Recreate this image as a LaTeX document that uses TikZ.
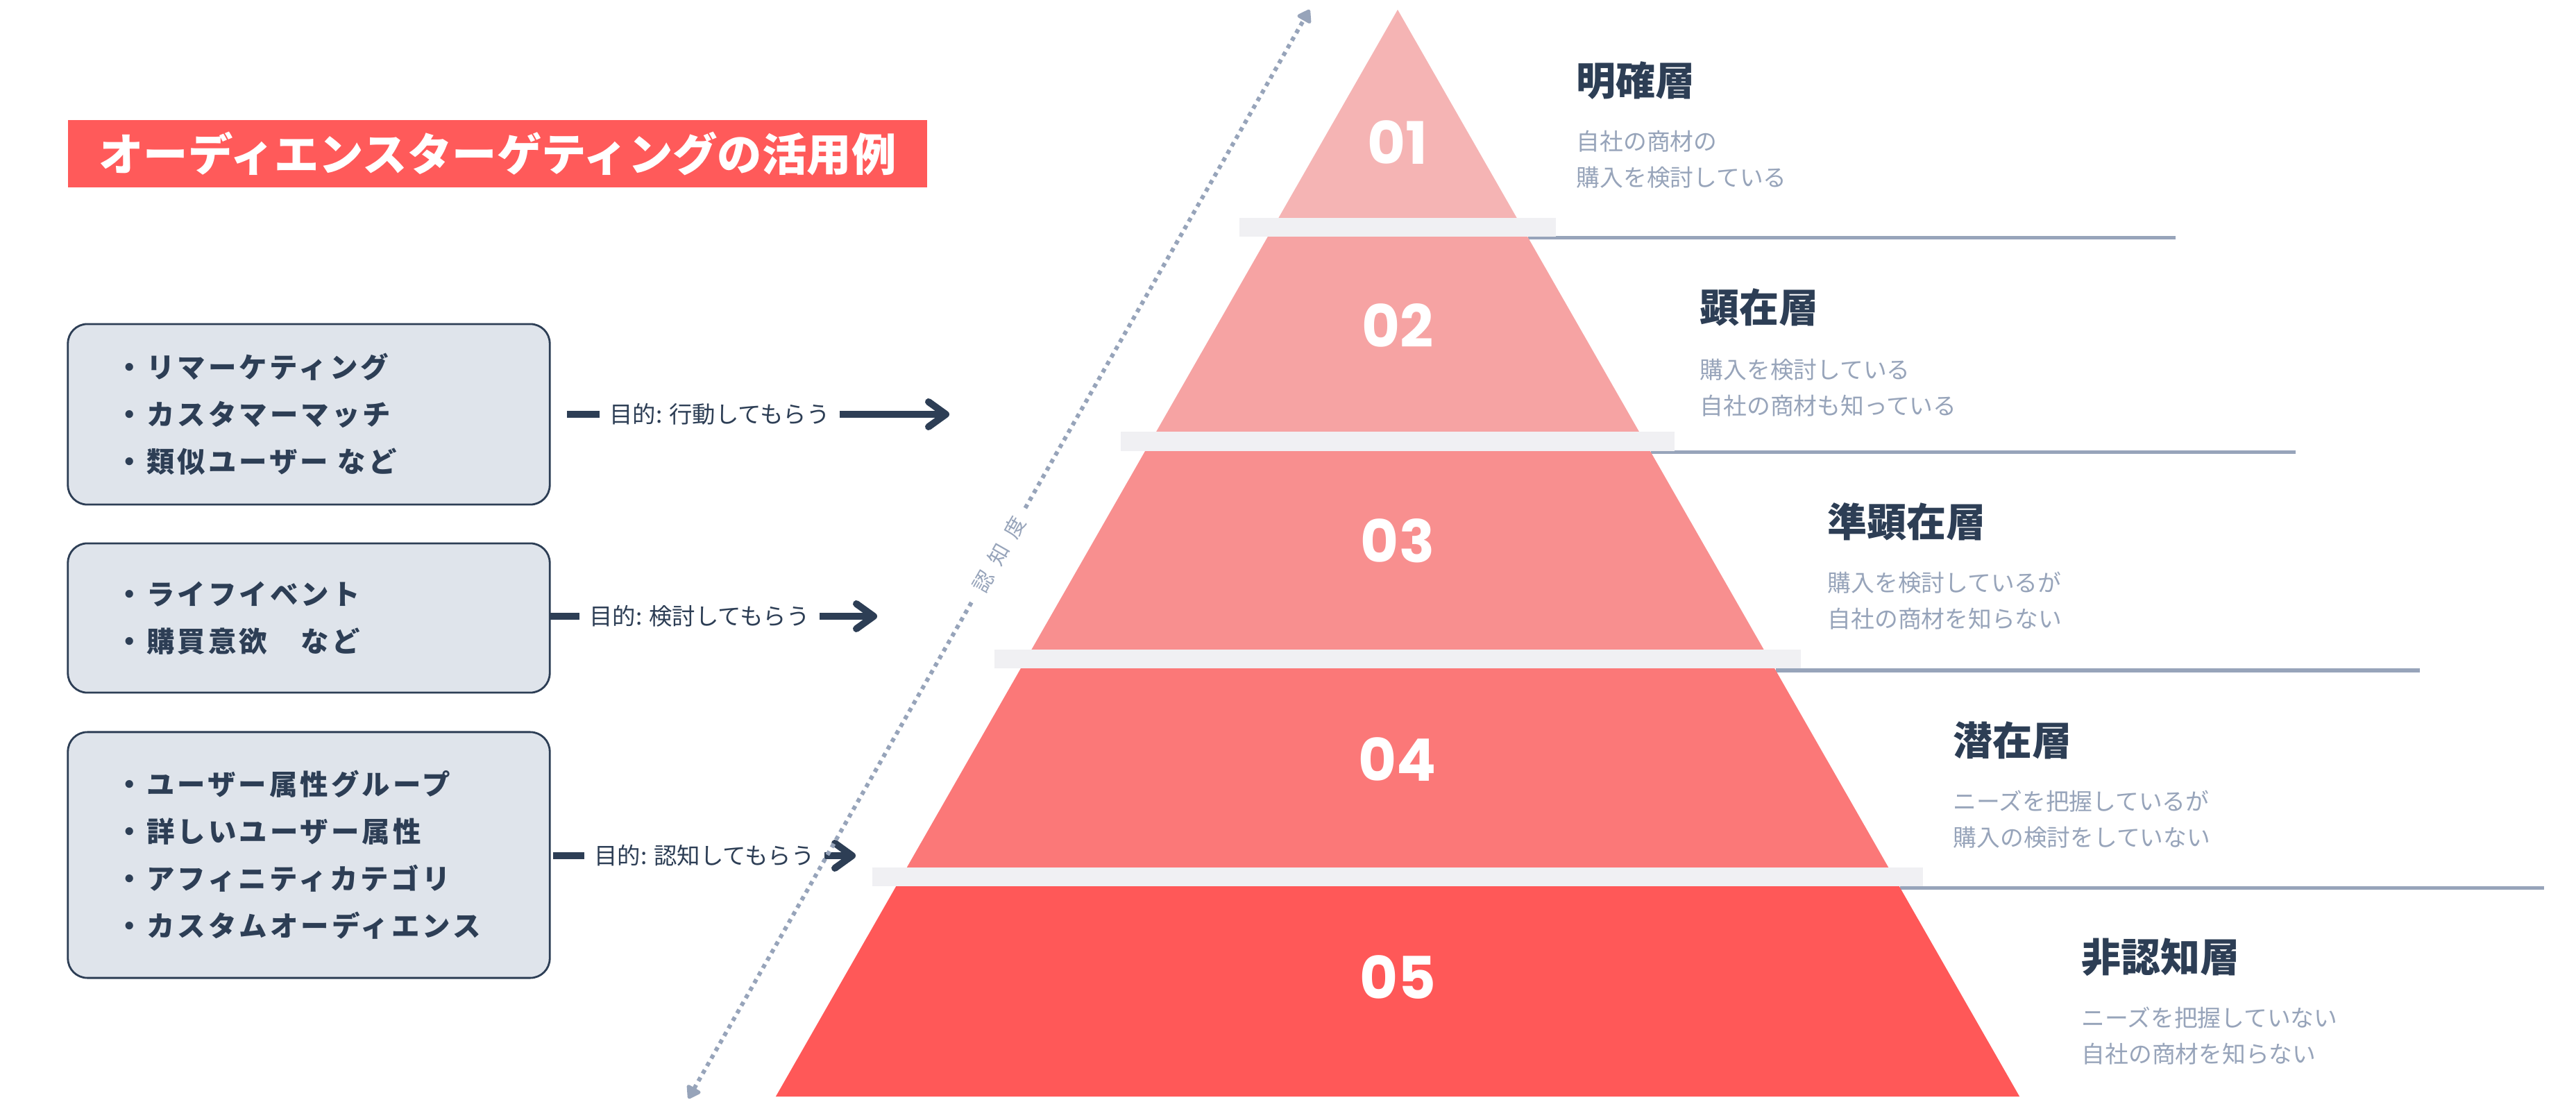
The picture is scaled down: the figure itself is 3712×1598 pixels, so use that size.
\documentclass[tikz,border=0pt]{standalone}
\usepackage{fontspec}
\setmainfont{Noto Sans CJK JP}
\newfontfamily\numfont{Poppins}
\usepackage{tikz}
\usetikzlibrary{arrows.meta}

\definecolor{coral}{HTML}{FF5A5A}
\definecolor{navy}{HTML}{2D3E55}
\definecolor{boxgray}{HTML}{DFE4EB}
\definecolor{slate}{HTML}{97A4BA}
\definecolor{bargray}{HTML}{F0F0F3}
\definecolor{layA}{HTML}{F5B4B4}
\definecolor{layB}{HTML}{F6A3A3}
\definecolor{layC}{HTML}{F88F8F}
\definecolor{layD}{HTML}{FB7878}
\definecolor{layE}{HTML}{FF5858}

\tikzset{
  tgtbox/.style={draw=navy, line width=0.8pt, fill=boxgray, rounded corners=0.28cm,
    align=left, text width=5.56cm, inner xsep=0.69cm, minimum height=#1, text=navy,
    font=\bfseries\fontsize{11.5pt}{0.68cm}\selectfont\addfontfeature{LetterSpace=10}},
  aimtag/.style={text=navy, inner xsep=0.14cm, inner ysep=0pt,
    font=\fontsize{9.5pt}{11pt}\selectfont},
  aimline/.style={navy, line width=0.1cm},
  layname/.style={anchor=west, inner sep=0pt, text=navy,
    font=\bfseries\fontsize{16.2pt}{18pt}\selectfont},
  laynote/.style={anchor=west, inner sep=0pt, align=left, text=slate,
    font=\fontsize{9.6pt}{0.52cm}\selectfont},
  laynum/.style={text=white, inner sep=0pt, font=\numfont\bfseries\fontsize{24pt}{26pt}\selectfont},
  sepline/.style={slate, line width=0.05cm},
  scaleline/.style={slate, line width=0.06cm, dash pattern=on 0.06cm off 0.065cm,
    >={Triangle[length=0.2cm,width=0.25cm,round]}, <->}
}

\begin{document}
\begin{tikzpicture}[x=0.01cm, y=-0.01cm]
  \fill[white] (0,0) rectangle (3712,1598);
  \useasboundingbox (0,0) rectangle (3712,1598);

  % title
  \node[fill=coral, minimum width=12.38cm, minimum height=0.97cm, text=white,
    font=\bfseries\fontsize{18.3pt}{20pt}\selectfont] (title) at (717,221.5) {オーディエンスターゲティングの活用例};

  % targeting boxes
  \node[tgtbox=2.6cm] (tgt1) at (445,597) {・リマーケティング\\・カスタマーマッチ\\・類似ユーザー など};
  \node[tgtbox=2.15cm] (tgt2) at (445,890.5) {・ライフイベント\\・購買意欲　など};
  \node[tgtbox=3.54cm] (tgt3) at (445,1232) {・ユーザー属性グループ\\・詳しいユーザー属性\\・アフィニティカテゴリ\\・カスタムオーディエンス};

  % aims
  \coordinate (s1) at (817,597);
  \coordinate (e1) at (1368,597);
  \node[aimtag] (aim1) at (1037,597) {目的: 行動してもらう};
  \draw[aimline] (s1) -- (aim1.west);
  \draw[aimline, -{Straight Barb[length=0.25cm,width=0.36cm,round]}] (aim1.east) -- (e1);

  \coordinate (s2) at (793,888);
  \coordinate (e2) at (1264,888);
  \node[aimtag] (aim2) at (1008,888) {目的: 検討してもらう};
  \draw[aimline] (s2) -- (aim2.west);
  \draw[aimline, -{Straight Barb[length=0.25cm,width=0.36cm,round]}] (aim2.east) -- (e2);

  \coordinate (s3) at (797,1233);
  \coordinate (e3) at (1233,1233);
  \node[aimtag] (aim3) at (1015,1233) {目的: 認知してもらう};
  \draw[aimline] (s3) -- (aim3.west);
  \draw[aimline, -{Straight Barb[length=0.25cm,width=0.36cm,round]}] (aim3.east) -- (e3);

  % awareness scale
  \coordinate (lo) at (992,1583);
  \coordinate (hi) at (1887,14);
  \draw[scaleline] (lo) -- node[sloped, fill=white, inner xsep=0.15cm, inner ysep=0.05cm, text=slate,
    font=\fontsize{8.5pt}{10pt}\selectfont\addfontfeature{LetterSpace=50}] (aware) {認知度} (hi);

  % separator lines
  \draw[sepline] (2202,343) -- (3135,343);
  \draw[sepline] (2379,652) -- (3308,652);
  \draw[sepline] (2559,966) -- (3487,966);
  \draw[sepline] (2738,1279) -- (3666,1279);

  % pyramid
  \fill[layA] (2014,14) -- (2193.1,327) -- (1834.9,327) -- cycle;
  \fill[layB] (1834.9,327) -- (2193.1,327) -- (2369.9,636) -- (1658.1,636) -- cycle;
  \fill[layC] (1658.1,636) -- (2369.9,636) -- (2549.6,950) -- (1478.4,950) -- cycle;
  \fill[layD] (1478.4,950) -- (2549.6,950) -- (2728.7,1263) -- (1299.3,1263) -- cycle;
  \fill[layE] (1299.3,1263) -- (2728.7,1263) -- (2910.1,1580) -- (1117.9,1580) -- cycle;

  \fill[bargray] (1786,314) rectangle (2242,341);
  \fill[bargray] (1615,622) rectangle (2413,650);
  \fill[bargray] (1433,936) rectangle (2595,963);
  \fill[bargray] (1257,1250) rectangle (2771,1277);

  \node[laynum] (n1) at (2014,205) {01};
  \node[laynum] (n2) at (2014,469) {02};
  \node[laynum] (n3) at (2014,779) {03};
  \node[laynum] (n4) at (2014,1094) {04};
  \node[laynum] (n5) at (2014,1408) {05};

  % layer texts
  \node[layname] (h1) at (2271,116) {明確層};
  \node[laynote] (d1) at (2271,230) {自社の商材の\\購入を検討している};
  \node[layname] (h2) at (2449,443) {顕在層};
  \node[laynote] (d2) at (2449,559) {購入を検討している\\自社の商材も知っている};
  \node[layname] (h3) at (2633,752) {準顕在層};
  \node[laynote] (d3) at (2633,866) {購入を検討しているが\\自社の商材を知らない};
  \node[layname] (h4) at (2814,1067) {潜在層};
  \node[laynote] (d4) at (2814,1181) {ニーズを把握しているが\\購入の検討をしていない};
  \node[layname] (h5) at (2999,1379) {非認知層};
  \node[laynote] (d5) at (2999,1493) {ニーズを把握していない\\自社の商材を知らない};
\end{tikzpicture}
\end{document}
